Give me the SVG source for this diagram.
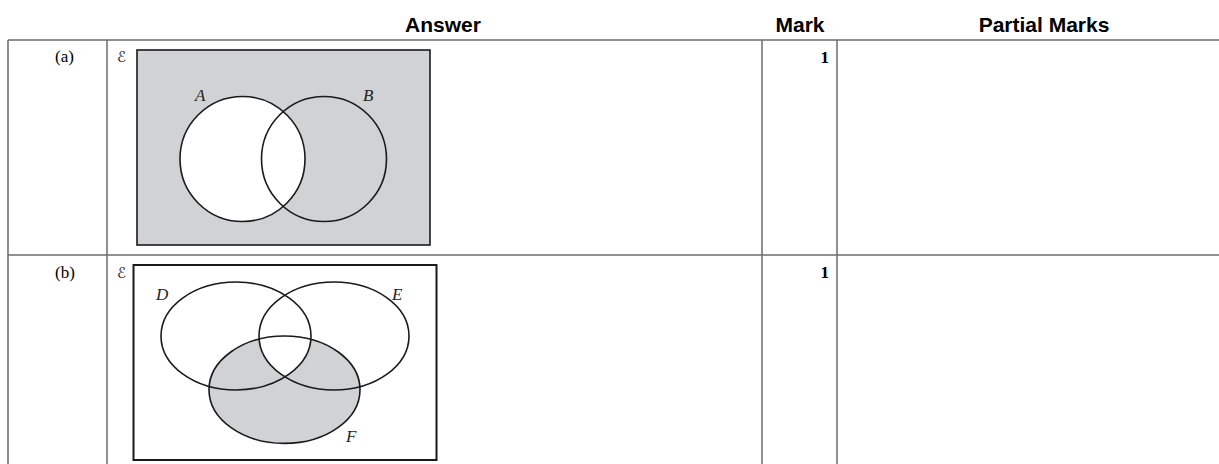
<svg xmlns="http://www.w3.org/2000/svg" width="1219" height="464" viewBox="0 0 1219 464">
<style>
.grid{stroke:#6b6b6b;stroke-width:1.5;fill:none}
.hdr{font-family:"Liberation Sans",Arial,sans-serif;font-weight:bold;font-size:21px;fill:#000;text-anchor:middle}
.lbl{font-family:"Liberation Serif","Times New Roman",serif;font-size:17px;fill:#000}
.mk{font-family:"Liberation Serif","Times New Roman",serif;font-weight:bold;font-size:17px;fill:#000;text-anchor:end}
.set{font-family:"Liberation Serif","Times New Roman",serif;font-style:italic;font-size:17px;fill:#222}
.uni{font-family:"DejaVu Sans","Noto Sans",serif;font-size:15px;fill:#222}
.ln{stroke:#1a1a1a;stroke-width:1.6;fill:none}
</style>
<defs>
<clipPath id="clipD"><ellipse cx="236" cy="336" rx="75" ry="54"/></clipPath>
</defs>
<rect width="1219" height="464" fill="#fff"/>
<g id="table">
<line class="grid" x1="8" y1="40" x2="1219" y2="40"/>
<line class="grid" x1="8" y1="255" x2="1219" y2="255" stroke-width="2"/>
<line class="grid" x1="8" y1="40" x2="8" y2="464"/>
<line class="grid" x1="107" y1="40" x2="107" y2="464"/>
<line class="grid" x1="762" y1="40" x2="762" y2="464"/>
<line class="grid" x1="837" y1="40" x2="837" y2="464"/>
</g>
<g id="header">
<text class="hdr" x="443" y="32">Answer</text>
<text class="hdr" x="800" y="32">Mark</text>
<text class="hdr" x="1044" y="32">Partial Marks</text>
</g>
<g id="row-a">
<text class="lbl" x="55" y="62">(a)</text>
<text class="mk" x="829" y="63">1</text>
<text class="uni" x="117" y="62">ℰ</text>
<rect x="137" y="50" width="293" height="195" fill="#d1d2d4" stroke="#1a1a1a" stroke-width="1.6"/>
<circle cx="242.5" cy="159" r="62.5" fill="#fff"/>
<circle class="ln" cx="324" cy="159" r="62.5" fill="#d1d2d4"/>
<circle class="ln" cx="242.5" cy="159" r="62.5"/>
<text class="set" x="195" y="101">A</text>
<text class="set" x="363" y="101">B</text>
</g>
<g id="row-b">
<text class="lbl" x="55" y="278">(b)</text>
<text class="mk" x="829" y="278">1</text>
<text class="uni" x="117" y="278">ℰ</text>
<rect x="133.5" y="265" width="303" height="195" fill="#fff" stroke="#1a1a1a" stroke-width="2"/>
<ellipse cx="284.5" cy="389.7" rx="75.5" ry="53.7" fill="#d1d2d4"/>
<ellipse cx="334" cy="336" rx="75" ry="54" fill="#fff" clip-path="url(#clipD)"/>
<ellipse class="ln" cx="236" cy="336" rx="75" ry="54"/>
<ellipse class="ln" cx="334" cy="336" rx="75" ry="54"/>
<ellipse class="ln" cx="284.5" cy="389.7" rx="75.5" ry="53.7"/>
<text class="set" x="156" y="300">D</text>
<text class="set" x="392" y="300">E</text>
<text class="set" x="346" y="442">F</text>
</g>
</svg>
